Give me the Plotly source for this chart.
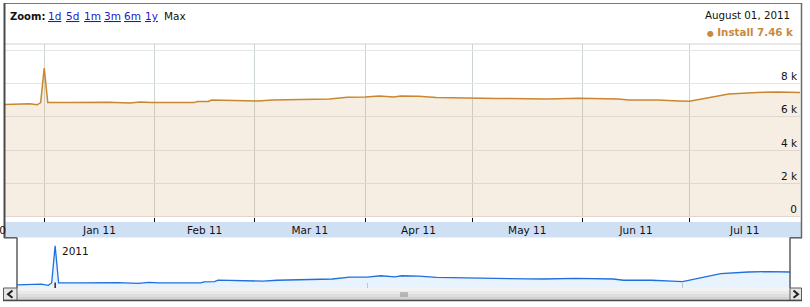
import plotly.graph_objects as go

# ---------------- data ----------------
dates = [
    "2010-12-21", "2010-12-24", "2010-12-26", "2010-12-28", "2010-12-30", "2010-12-31",
    "2011-01-01", "2011-01-02", "2011-01-08", "2011-01-14", "2011-01-19", "2011-01-25",
    "2011-01-28", "2011-01-31", "2011-02-06", "2011-02-12", "2011-02-13", "2011-02-16",
    "2011-02-17", "2011-02-22", "2011-02-28", "2011-03-02", "2011-03-06", "2011-03-13",
    "2011-03-22", "2011-03-27", "2011-04-01", "2011-04-05", "2011-04-09", "2011-04-11",
    "2011-04-16", "2011-04-21", "2011-04-30", "2011-05-08", "2011-05-17", "2011-05-22",
    "2011-05-31", "2011-06-05", "2011-06-11", "2011-06-14", "2011-06-22", "2011-06-28",
    "2011-07-01", "2011-07-12", "2011-07-20", "2011-07-26", "2011-08-01",
]
installs = [
    6740, 6760, 6800, 6780, 6720, 6850,
    8920, 6850, 6850, 6860, 6870, 6830,
    6880, 6860, 6850, 6850, 6910, 6920,
    7010, 6990, 6990, 6950, 7000, 7020,
    7070, 7170, 7180, 7250, 7190, 7250,
    7230, 7160, 7110, 7100, 7080, 7070,
    7110, 7100, 7070, 7000, 7000, 6950,
    6930, 7370, 7460, 7480, 7460,
]
y_tick_vals = [0, 2000, 4000, 6000, 8000, 10000]
y_tick_text = ["0", "2 k", "4 k", "6 k", "8 k", "10 k"]
nav_tick_vals = ["2011-01-01", "2011-04-01", "2011-07-01"]
year_tick = "2011-01-01"
year_label = "2011"
x_range = ["2010-12-21", "2011-08-01"]
zoom_links = ["1d", "5d", "1m", "3m", "6m", "1y"]
date_label = "August 01, 2011"
series_name = "Install"
last_value_label = "7.46 k"

# ---------------- layout helpers ----------------
W, H = 810, 307
FONT = "DejaVu Sans"


def px(x):
    return x / W


def py(y):
    return 1 - y / H


fig = go.Figure()
fig.add_trace(go.Scatter(
    x=dates, y=installs, mode="lines", name=series_name,
    line=dict(color="#c98730", width=1.5),
    fill="tozeroy", fillcolor="rgba(205,160,100,0.18)",
    xaxis="x", yaxis="y", hoverinfo="skip",
))
fig.add_trace(go.Scatter(
    x=dates, y=installs, mode="lines", name=series_name,
    line=dict(color="#1f6fdc", width=1.3),
    fill="tozeroy", fillcolor="rgba(100,170,240,0.14)",
    xaxis="x2", yaxis="y2", hoverinfo="skip",
))

shapes = []


def line(x0, y0, x1, y1, color="#5c5c5c", width=1.5):
    shapes.append(dict(type="line", xref="paper", yref="paper",
                       x0=px(x0), y0=py(y0), x1=px(x1), y1=py(y1),
                       line=dict(color=color, width=width), layer="above"))


def rect(x0, y0, x1, y1, fill, border=None, bw=0, layer="above"):
    shapes.append(dict(type="rect", xref="paper", yref="paper",
                       x0=px(x0), y0=py(y0), x1=px(x1), y1=py(y1),
                       fillcolor=fill,
                       line=dict(color=border or fill, width=bw), layer=layer))


# header white cover (clips top tick label)
rect(5, 4, 801, 43.6, "white")
line(5, 44, 801, 44, "#d2d2d2", 1)
# axis band (below so the month labels stay visible)
rect(5, 222, 801, 237.5, "#cfe0f5", layer="below")
# scrollbar track (stepped gradient)
grad = ["#f3f3f3", "#e9e9ea", "#dedee0", "#d2d2d5"]
for i, c in enumerate(grad):
    rect(17, 288 + i * 3, 790, 291 + i * 3, c)
# buttons
rect(3.5, 288, 17, 300.3, "#e6e6e6", "#5a5a5a", 1)
rect(790, 288, 801.5, 300.3, "#e6e6e6", "#5a5a5a", 1)
shapes.append(dict(type="path", xref="paper", yref="paper", layer="above",
                   path=f"M {px(12.5)} {py(290.5)} L {px(8)} {py(294.2)} L {px(12.5)} {py(297.8)}",
                   line=dict(color="#222", width=2)))
shapes.append(dict(type="path", xref="paper", yref="paper", layer="above",
                   path=f"M {px(793.5)} {py(290.5)} L {px(798)} {py(294.2)} L {px(793.5)} {py(297.8)}",
                   line=dict(color="#222", width=2)))
# grip
for gx in (401, 403, 405, 407):
    line(gx, 292, gx, 297, "#8a8a8a", 1)
# frame
line(4, 3.5, 802, 3.5, "#7a7a7a", 1)
line(4.5, 3, 4.5, 238, "#4a4a4a", 2)
line(801.5, 3, 801.5, 238, "#6a6a6a", 1.5)
line(4, 237.8, 17, 237.8)
line(17, 237.5, 17, 288)
line(790, 237.8, 802, 237.8)
line(790, 237.5, 790, 288)
line(3, 300.5, 802, 300.5, "#4a4a4a", 1.5)
# black year tick in navigator
shapes.append(dict(type="line", xref="x2", yref="paper",
                   x0=year_tick, x1=year_tick, y0=py(288), y1=py(282.5),
                   line=dict(color="#111", width=1.3), layer="above"))

annotations = []


def text(x, y, s, anchor="left", size=10, color="#111", xref="paper", xshift=0):
    annotations.append(dict(x=px(x) if xref == "paper" else x, y=py(y), xref=xref, yref="paper",
                            text=s, showarrow=False, xanchor=anchor, yanchor="middle",
                            xshift=xshift,
                            font=dict(family=FONT, size=size, color=color), borderpad=0))


text(9, 16, "<b>Zoom:</b>", size=10)
link_x = [47, 64.5, 83, 103, 122.5, 144]
for lx, lab in zip(link_x, zoom_links):
    text(lx, 16, f"<u>{lab}</u>", size=10.5, color="#1a1acc")
text(163, 16, "Max", size=10.5)
text(790.5, 15, date_label, anchor="right", size=10.3)
text(794.5, 32, f"<span style='font-size:8px'>●</span> <b>{series_name} {last_value_label}</b>",
     anchor="right", size=10.3, color="#c98a3c")
text(year_tick, 251, year_label, size=10.5, xref="x2", xshift=6)
# partial "Dec 10" label at left edge of axis band
text(-12.5, 230, "Dec 10", anchor="center", size=10.5)

fig.update_layout(
    width=W, height=H, margin=dict(l=0, r=0, t=0, b=0),
    paper_bgcolor="white", plot_bgcolor="white", showlegend=False,
    font=dict(family=FONT, size=10.5, color="#111"),
    shapes=shapes, annotations=annotations,
    xaxis=dict(
        domain=[px(5), px(800)], range=x_range, type="date", anchor="y",
        dtick="M1", tick0="2011-01-01", tickformat="%b %y", ticklabelmode="period",
        ticks="inside", ticklen=4, tickcolor="#111", tickwidth=1,
        showgrid=True, gridcolor="#cdd6cc", gridwidth=1,
        showline=False, zeroline=False, fixedrange=True,
        tickfont=dict(family=FONT, size=10.5, color="#111"),
    ),
    yaxis=dict(
        domain=[py(222), py(44)], range=[-300, 10360], anchor="x",
        tickvals=y_tick_vals, ticktext=y_tick_text, side="right",
        ticklabelposition="inside top", ticks="",
        showgrid=True, gridcolor="#e3e3ea", gridwidth=1,
        zeroline=False, showline=False,
        tickfont=dict(family=FONT, size=10.5, color="#111"),
    ),
    xaxis2=dict(
        domain=[px(17), px(790)], range=x_range, type="date", anchor="y2",
        tickvals=nav_tick_vals, showticklabels=False,
        ticks="inside", ticklen=5, tickcolor="#c4c4c4",
        showgrid=False, zeroline=False, showline=False,
    ),
    yaxis2=dict(
        domain=[py(288), py(238)], range=[6570, 9350], anchor="x2",
        showticklabels=False, showgrid=False, zeroline=False, ticks="",
    ),
)

fig.write_html("out.html")
